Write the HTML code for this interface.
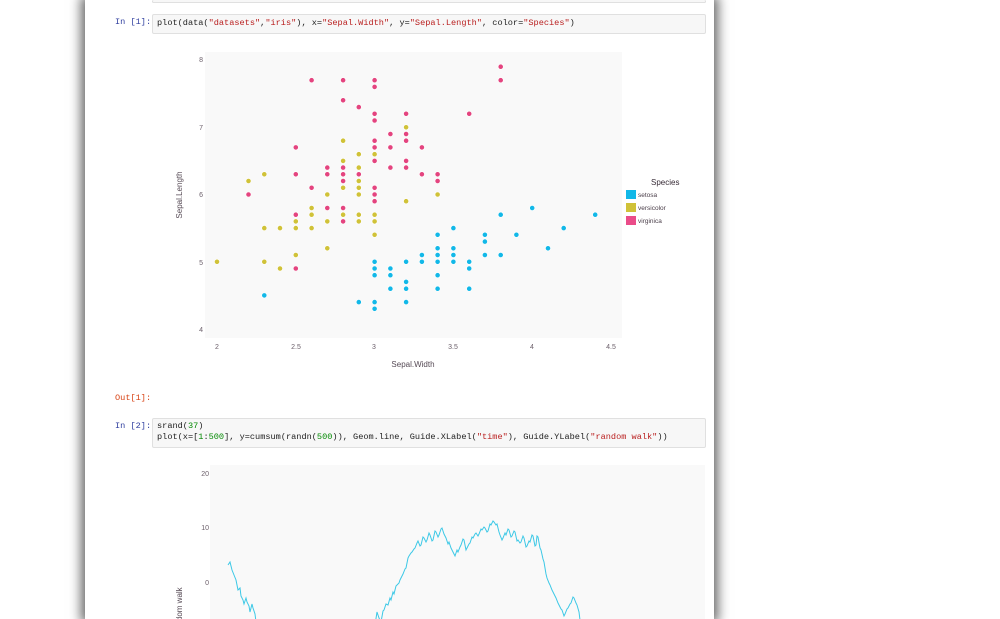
<!DOCTYPE html>
<html><head><meta charset="utf-8"><style>
html,body{margin:0;padding:0;background:#fff;width:1000px;height:619px;overflow:hidden;position:relative;font-family:"Liberation Sans",sans-serif}
#page{position:absolute;left:85px;top:0;width:629px;height:619px;background:#fff;box-shadow:0 0 11px 4px rgba(0,0,0,.6)}
.cell{position:absolute;left:152px;width:552px;background:#f7f7f7;border:1px solid #e0e0e0;border-radius:2px}
.code{position:absolute;font-family:"Liberation Mono",monospace;font-size:8.6px;color:#222;white-space:pre;line-height:11px}
.p{position:absolute;font-family:"Liberation Mono",monospace;font-size:8.6px;white-space:pre}
.s{color:#ba2121}.n{color:#080}
</style></head><body>
<div id="page"></div>
<div class="cell" style="top:0;height:2px;border-top:none"></div>
<div class="p" style="left:115px;top:17px;color:#303f9f">In [1]:</div>
<div class="cell" style="top:14px;height:18px;"></div>
<div class="code" style="left:157px;top:18px">plot(data(<span class="s">"datasets"</span>,<span class="s">"iris"</span>), x=<span class="s">"Sepal.Width"</span>, y=<span class="s">"Sepal.Length"</span>, color=<span class="s">"Species"</span>)</div>
<div class="p" style="left:115px;top:393px;color:#d84315">Out[1]:</div>
<div class="p" style="left:115px;top:421px;color:#303f9f">In [2]:</div>
<div class="cell" style="top:418px;height:28px;"></div>
<div class="code" style="left:157px;top:421px">srand(<span class="n">37</span>)
plot(x=[<span class="n">1</span>:<span class="n">500</span>], y=cumsum(randn(<span class="n">500</span>)), Geom.line, Guide.XLabel(<span class="s">"time"</span>), Guide.YLabel(<span class="s">"random walk"</span>))</div>
<svg id="sv" width="1000" height="619" style="position:absolute;left:0;top:0" font-family="Liberation Sans, sans-serif">
<rect x="205" y="52" width="417" height="286" fill="#f9f9f9"/>
<g font-size="7" fill="#6c606b" text-anchor="end">
<text x="203" y="62">8</text><text x="203" y="130">7</text><text x="203" y="197">6</text><text x="203" y="265">5</text><text x="203" y="332">4</text>
</g>
<g font-size="7" fill="#6c606b" text-anchor="middle">
<text x="217" y="349">2</text><text x="296" y="349">2.5</text><text x="374" y="349">3</text><text x="453" y="349">3.5</text><text x="532" y="349">4</text><text x="611" y="349">4.5</text>
</g>
<text x="413" y="367" font-size="8" fill="#564a55" text-anchor="middle">Sepal.Width</text>
<text transform="translate(182,195) rotate(-90)" font-size="8" fill="#564a55" text-anchor="middle">Sepal.Length</text>
<text x="651" y="185" font-size="8" fill="#362a35">Species</text>
<rect x="626" y="190" width="10" height="9" fill="#12b8e8"/>
<rect x="626" y="203" width="10" height="9" fill="#d0c238"/>
<rect x="626" y="216" width="10" height="9" fill="#ea4c89"/>
<g font-size="6.5" fill="#4c404b"><text x="638" y="197">setosa</text><text x="638" y="210">versicolor</text><text x="638" y="223">virginica</text></g>
<g id="pts" stroke="#fff" stroke-width="0.6"></g>
<rect x="210" y="465" width="495" height="154" fill="#f9f9f9"/>
<g font-size="7" fill="#6c606b" text-anchor="end">
<text x="209" y="476">20</text><text x="209" y="530">10</text><text x="209" y="585">0</text>
</g>
<text transform="translate(182,610) rotate(-90)" font-size="8" fill="#564a55" text-anchor="middle">random walk</text>
<polyline fill="none" stroke="#3cc8e6" stroke-width="1" points="228,565 230,562 232,570 234,575 236,580 238,590 240,588 241,596 243,600 244,604 246,598 247,602 249,606 250,612 252,604 253,608 255,614 256,622 375,625 377,612 379,618 381,622 383,611 384,610 386,604 388,605 390,598 391,600 393,592 394,594 396,586 397,585 399,583 400,580 402,576 403,574 405,569 406,568 408,558 409,556 411,553 412,552 414,549 415,548 417,543 418,541 420,546 421,545 423,537 424,538 426,542 427,540 429,533 430,535 432,541 433,540 435,531 436,532 438,537 439,535 441,529 442,528 444,534 446,538 448,544 449,542 451,548 452,550 454,554 455,556 457,550 458,552 460,547 461,545 463,539 464,540 466,550 467,548 469,544 470,543 472,537 473,538 475,534 476,533 478,536 479,534 481,529 482,530 484,527 485,528 487,532 488,531 490,524 491,525 493,521 494,522 496,525 497,524 499,532 500,535 502,540 503,538 505,533 506,535 508,529 509,530 511,537 512,536 514,531 515,532 517,541 518,540 520,543 521,542 523,536 524,538 526,547 527,546 529,541 530,542 532,535 533,536 535,546 536,545 537,536 538,537 540,548 541,550 543,559 544,562 546,574 547,578 549,583 550,585 552,590 553,592 555,596 556,598 558,603 559,605 561,609 562,610 564,616 565,614 567,609 568,608 570,604 571,603 573,597 574,598 576,603 577,605 579,612 580,620"/>
</svg>
<script>
var S="5.1,3.5;4.9,3.0;4.7,3.2;4.6,3.1;5.0,3.6;5.4,3.9;4.6,3.4;5.0,3.4;4.4,2.9;4.9,3.1;5.4,3.7;4.8,3.4;4.8,3.0;4.3,3.0;5.8,4.0;5.7,4.4;5.4,3.9;5.1,3.5;5.7,3.8;5.1,3.8;5.4,3.4;5.1,3.7;4.6,3.6;5.1,3.3;4.8,3.4;5.0,3.0;5.0,3.4;5.2,3.5;5.2,3.4;4.7,3.2;4.8,3.1;5.4,3.4;5.2,4.1;5.5,4.2;4.9,3.1;5.0,3.2;5.5,3.5;4.9,3.6;4.4,3.0;5.1,3.4;5.0,3.5;4.5,2.3;4.4,3.2;5.0,3.5;5.1,3.8;4.8,3.0;5.1,3.8;4.6,3.2;5.3,3.7;5.0,3.3";
var V="7.0,3.2;6.4,3.2;6.9,3.1;5.5,2.3;6.5,2.8;5.7,2.8;6.3,3.3;4.9,2.4;6.6,2.9;5.2,2.7;5.0,2.0;5.9,3.0;6.0,2.2;6.1,2.9;5.6,2.9;6.7,3.1;5.6,3.0;5.8,2.7;6.2,2.2;5.6,2.5;5.9,3.2;6.1,2.8;6.3,2.5;6.1,2.8;6.4,2.9;6.6,3.0;6.8,2.8;6.7,3.0;6.0,2.9;5.7,2.6;5.5,2.4;5.5,2.4;5.8,2.7;6.0,2.7;5.4,3.0;6.0,3.4;6.7,3.1;6.3,2.3;5.6,3.0;5.5,2.5;5.5,2.6;6.1,3.0;5.8,2.6;5.0,2.3;5.6,2.7;5.7,3.0;5.7,2.9;6.2,2.9;5.1,2.5;5.7,2.8";
var G="6.3,3.3;5.8,2.7;7.1,3.0;6.3,2.9;6.5,3.0;7.6,3.0;4.9,2.5;7.3,2.9;6.7,2.5;7.2,3.6;6.5,3.2;6.4,2.7;6.8,3.0;5.7,2.5;5.8,2.8;6.4,3.2;6.5,3.0;7.7,3.8;7.7,2.6;6.0,2.2;6.9,3.2;5.6,2.8;7.7,2.8;6.3,2.7;6.7,3.3;7.2,3.2;6.2,2.8;6.1,3.0;6.4,2.8;7.2,3.0;7.4,2.8;7.9,3.8;6.4,2.8;6.3,2.8;6.1,2.6;7.7,3.0;6.3,3.4;6.4,3.1;6.0,3.0;6.9,3.1;6.7,3.1;6.9,3.1;5.8,2.7;6.8,3.2;6.7,3.3;6.7,3.0;6.3,2.5;6.5,3.0;6.2,3.4;5.9,3.0";
var g=document.getElementById("pts"),h="";
[[S,"#12b8e8"],[V,"#d0c238"],[G,"#e4447f"]].forEach(function(a){a[0].split(";").forEach(function(p){var q=p.split(","),l=+q[0],w=+q[1];
h+='<circle cx="'+(217+(w-2)*157.6).toFixed(1)+'" cy="'+(329-(l-4)*67.25).toFixed(1)+'" r="2.6" fill="'+a[1]+'"/>';});});
g.innerHTML=h;
</script>
</body></html>
